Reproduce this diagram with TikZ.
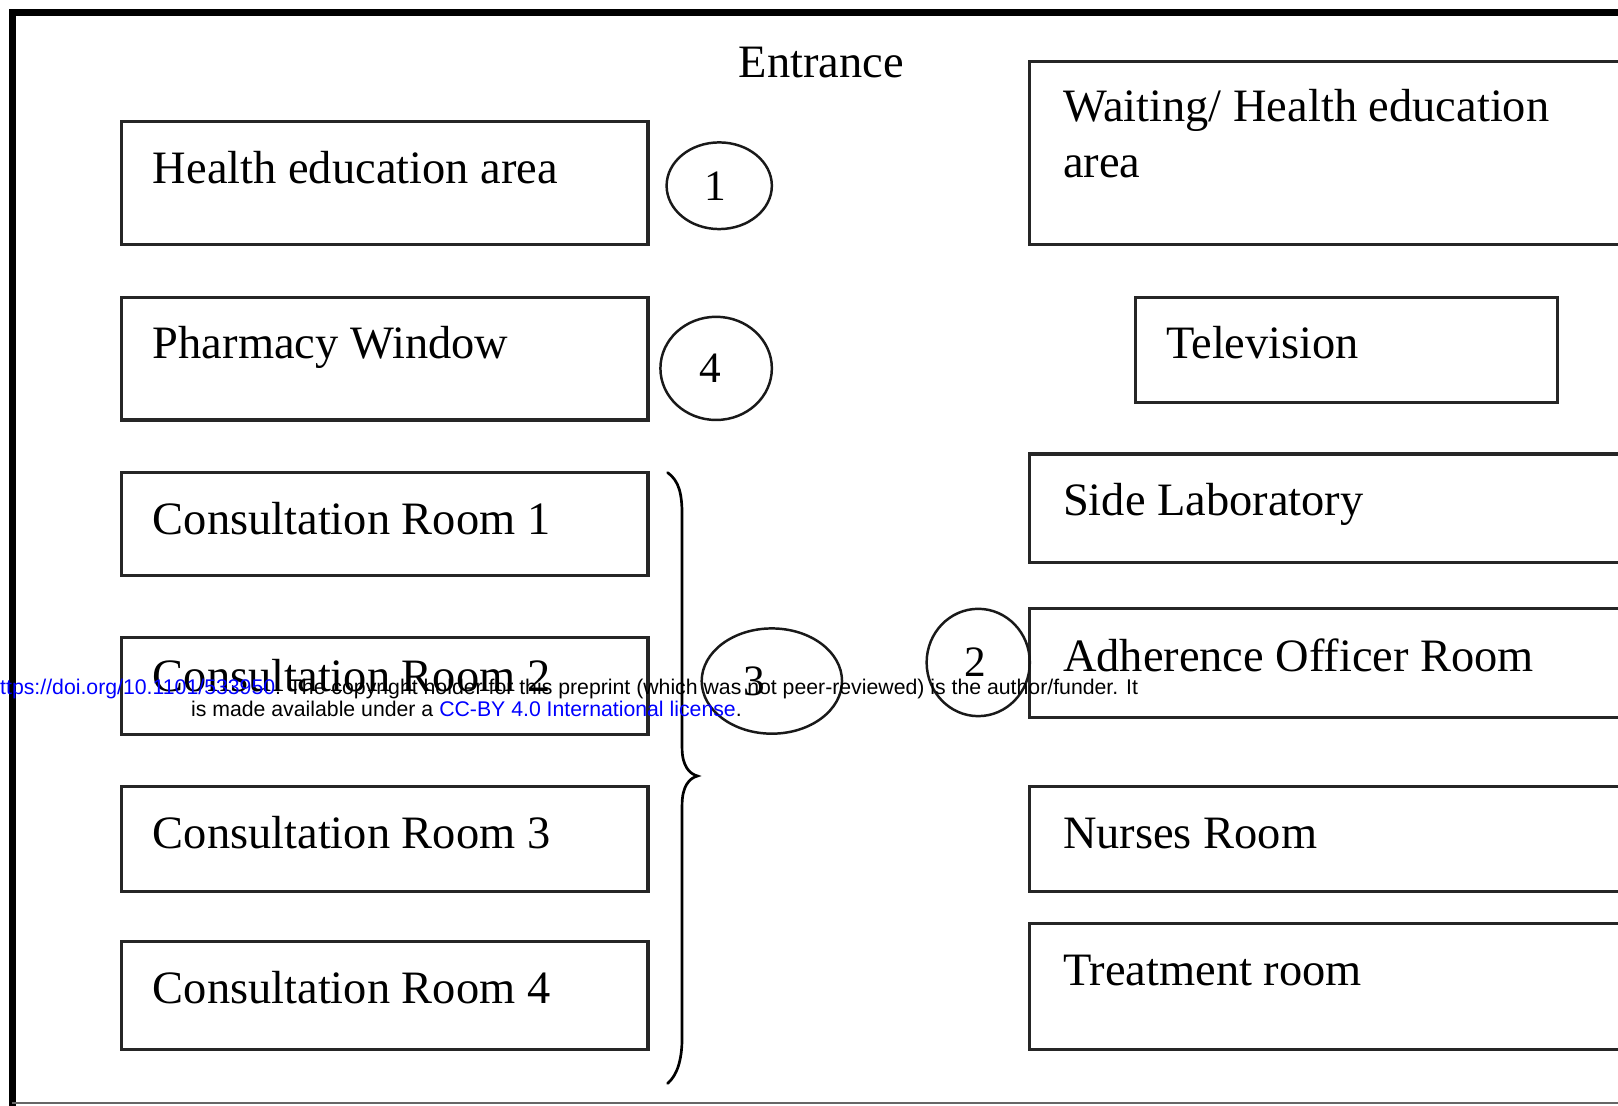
\documentclass[tikz,border=0pt]{standalone}
\usepackage{fontspec}
\setmainfont{Liberation Serif}
\newfontfamily\wmfont{Liberation Sans}
\usetikzlibrary{shapes.geometric}
\definecolor{linkblue}{RGB}{0,0,255}
\begin{document}
\begin{tikzpicture}[x=1pt,y=-1pt,
  roombox/.style={draw=black!85,line width=3pt,inner sep=0pt},
  lbl/.style={anchor=base west,inner sep=0pt,font=\fontsize{45}{54}\selectfont},
  numcirc/.style={draw=black!90,ellipse,line width=2.4pt,inner sep=0pt,font=\fontsize{42}{50}\selectfont},
  wm/.style={anchor=base west,inner sep=0pt,font=\wmfont\fontsize{20.6}{24}\selectfont}]
\useasboundingbox (0,0) rectangle (1568,1071);
\fill[white] (0,0) rectangle (1568,1071);
\clip (0,0) rectangle (1568,1071);
% frame
\draw[line width=7pt] (12,1080) -- (12,12) -- (1600,12);
\draw[line width=2pt,black!60] (12,1068.5) -- (1600,1068.5);
% title
\node[anchor=base,inner sep=0pt,font=\fontsize{45}{54}\selectfont] (ent) at (796,75) {Entrance};
% left boxes
\node[roombox,minimum width=510pt,minimum height=119pt] (hea) at (373,177.5) {};
\node[lbl] (heaT) at (148,178) {Health education area};
\node[roombox,minimum width=510pt,minimum height=119pt] (pha) at (373,347.5) {};
\node[lbl] (phaT) at (148,347) {Pharmacy Window};
\node[roombox,minimum width=510pt,minimum height=100pt] (cr1) at (373,508) {};
\node[lbl] (cr1T) at (148,518) {Consultation Room 1};
\node[roombox,minimum width=510pt,minimum height=94pt] (cr2) at (373,665) {};
\node[lbl] (cr2T) at (148,670) {Consultation Room 2};
\node[roombox,minimum width=510pt,minimum height=102pt] (cr3) at (373,813) {};
\node[lbl] (cr3T) at (148,822) {Consultation Room 3};
\node[roombox,minimum width=510pt,minimum height=105pt] (cr4) at (373,964.5) {};
\node[lbl] (cr4T) at (148,972) {Consultation Room 4};
% right boxes
\node[roombox,minimum width=600pt,minimum height=177pt] (wai) at (1298,148.5) {};
\node[lbl] (waiT1) at (1030,118) {Waiting/ Health education};
\node[lbl] (waiT2) at (1030,172) {area};
\node[roombox,minimum width=409pt,minimum height=102pt] (tv) at (1304.5,339) {};
\node[lbl] (tvT) at (1130,347) {Television};
\node[roombox,minimum width=600pt,minimum height=105pt] (lab) at (1298,492.5) {};
\node[lbl] (labT) at (1030,500) {Side Laboratory};
\node[roombox,minimum width=600pt,minimum height=105pt] (aor) at (1298,642.5) {};
\node[lbl] (aorT) at (1030,651) {Adherence Officer Room};
\node[roombox,minimum width=600pt,minimum height=102pt] (nur) at (1298,813) {};
\node[lbl] (nurT) at (1030,822) {Nurses Room};
\node[roombox,minimum width=600pt,minimum height=122pt] (tre) at (1298,956) {};
\node[lbl] (treT) at (1030,955) {Treatment room};
% numbered circles
\node[numcirc,minimum width=102pt,minimum height=84pt] (c1) at (697,180) {\hspace*{-8pt}\raisebox{-5pt}{1}};
\node[numcirc,minimum width=108pt,minimum height=100pt] (c4) at (694,357) {\hspace*{-12pt}4};
\node[numcirc,minimum width=136pt,minimum height=102pt] (c3) at (748,660) {\hspace*{-34pt}\raisebox{-2pt}{3}};
\node[numcirc,minimum width=100pt,minimum height=104pt] (c2) at (948,642) {\hspace*{-6pt}2};
% brace
\coordinate (bt) at (647,458);
\coordinate (bp) at (676,752);
\coordinate (bb) at (647,1050);
\draw[line width=2.6pt,line cap=round] (bt) .. controls (658,466) and (661,478) .. (661,500)
  -- (661,725) .. controls (661,742) and (668,750) .. (bp)
  .. controls (668,754) and (661,762) .. (661,780)
  -- (661,1005) .. controls (661,1028) and (656,1042) .. (bb);
% watermark
\node[wm] (wm1) at (0,673) {\textcolor{linkblue}{ttps://doi.org/10.1101/533950}. The copyright holder for this preprint (which was not peer-reviewed) is the author/funder. It};
\node[wm] (wm2) at (185,694) {is made available under a \textcolor{linkblue}{CC-BY 4.0 International license}.};
\end{tikzpicture}
\end{document}
